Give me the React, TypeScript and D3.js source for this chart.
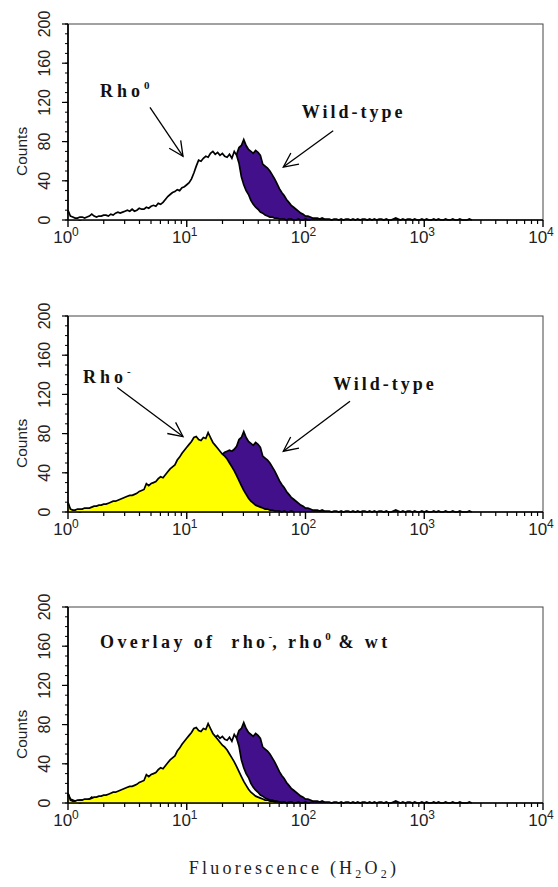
import React from "react";
import * as d3 from "d3";

// channel step in decades of fluorescence (log10 units)
const STEP = 0.02;

// Rho0 histogram counts (channel i at 10^(i*STEP))
const rho0Counts = [
  10, 4, 3, 2, 2, 3, 3, 2, 3, 4,
  6, 4, 3, 4, 4, 5, 5, 4, 6, 5,
  7, 8, 7, 8, 9, 10, 9, 11, 9, 10,
  12, 11, 11, 13, 12, 14, 15, 14, 17, 16,
  18, 21, 24, 26, 28, 29, 31, 30, 33, 34,
  36, 38, 42, 48, 55, 61, 60, 63, 65, 64,
  68, 70, 67, 69, 66, 68, 65, 64, 67, 63,
  70, 66, 58, 44, 36, 30, 26, 20, 16, 13,
  11, 8, 7, 5, 4, 3, 3, 2, 2, 1,
  1, 1, 0, 1, 1, 0, 0, 1, 0, 0,
  1, 0, 0,
];

// Rho- histogram counts
const rhoMinusCounts = [
  10, 3, 2, 2, 3, 3, 3, 4, 4, 4,
  5, 6, 6, 7, 7, 8, 8, 9, 10, 11,
  11, 12, 13, 14, 15, 16, 17, 17, 18, 19,
  21, 22, 23, 29, 27, 29, 30, 31, 34, 36,
  35, 38, 41, 44, 46, 48, 53, 56, 60, 63,
  66, 69, 72, 76, 77, 74, 73, 76, 75, 81,
  76, 71, 68, 65, 62, 59, 57, 54, 50, 46,
  42, 37, 32, 27, 22, 18, 14, 11, 9, 7,
  6, 5, 4, 3, 3, 2, 2, 1, 1, 1,
  0, 1, 0, 0, 1, 0,
];

// Wild-type histogram counts
const wildTypeCounts = [
  8, 2, 1, 1, 1, 0, 1, 1, 1, 1,
  1, 1, 1, 1, 1, 2, 1, 1, 2, 2,
  2, 2, 2, 2, 2, 3, 3, 3, 3, 3,
  3, 4, 4, 4, 4, 5, 5, 5, 6, 6,
  6, 7, 8, 9, 10, 11, 13, 14, 16, 18,
  20, 22, 25, 27, 30, 33, 36, 39, 42, 45,
  48, 51, 53, 55, 57, 59, 61, 62, 63, 62,
  64, 67, 74, 76, 82, 76, 72, 70, 68, 71,
  69, 66, 57, 55, 53, 50, 46, 42, 37, 32,
  28, 25, 21, 18, 15, 13, 11, 9, 7, 6,
  4, 4, 3, 2, 2, 2, 1, 2, 1, 1,
  1, 0, 1, 1, 0, 1, 0, 1, 1, 0,
  1, 0, 1, 0, 1, 1, 0, 1, 0, 1,
  0, 1, 1, 0, 1, 0, 0, 1, 2, 1,
  0, 1, 0, 1, 1, 0, 1, 0, 0, 1,
  0, 1, 0, 0, 1, 0, 1, 0, 0, 1,
  0, 0, 1, 0, 0, 1, 0, 0, 0, 1,
  0,
];

const yTickValues = [0, 40, 80, 120, 160, 200];
const yMinorValues = d3.range(0, 201, 10);
const xDecadeExponents = [0, 1, 2, 3, 4];

const COLORS = {
  wt: "#43108c",
  rhoMinus: "#ffff00",
  rho0: "#ffffff",
};

const LAYOUT = {
  left: 68,
  right: 543,
  tops: [24, 316, 607],
  height: 196,
};

type Series = { counts: number[]; fill: string };

type Annot =
  | { kind: "label"; x: number; c: number; text: string; sup: string; spacing: number }
  | { kind: "arrow"; x1: number; c1: number; x2: number; c2: number };

const panels: { layers: Series[]; annots: Annot[] }[] = [
  {
    layers: [
      { counts: wildTypeCounts, fill: COLORS.wt },
      { counts: rho0Counts, fill: COLORS.rho0 },
    ],
    annots: [
      { kind: "label", x: 1.86, c: 126, text: "Rho", sup: "0", spacing: 4 },
      { kind: "arrow", x1: 4.9, c1: 115, x2: 9.3, c2: 65 },
      { kind: "label", x: 93, c: 104, text: "Wild-type", sup: "", spacing: 3 },
      { kind: "arrow", x1: 171, c1: 91, x2: 65, c2: 54 },
    ],
  },
  {
    layers: [
      { counts: wildTypeCounts, fill: COLORS.wt },
      { counts: rhoMinusCounts, fill: COLORS.rhoMinus },
    ],
    annots: [
      { kind: "label", x: 1.34, c: 132, text: "Rho", sup: "-", spacing: 4 },
      { kind: "arrow", x1: 2.6, c1: 127, x2: 9.3, c2: 77 },
      { kind: "label", x: 171, c: 125, text: "Wild-type", sup: "", spacing: 3 },
      { kind: "arrow", x1: 237, c1: 113, x2: 65, c2: 62 },
    ],
  },
  {
    layers: [
      { counts: wildTypeCounts, fill: COLORS.wt },
      { counts: rho0Counts, fill: COLORS.rho0 },
      { counts: rhoMinusCounts, fill: COLORS.rhoMinus },
    ],
    annots: [],
  },
];

const SANS = "'Liberation Sans', Arial, Helvetica, sans-serif";
const SERIF = "'Liberation Serif', 'Times New Roman', serif";

function Panel({ index }: { index: number }) {
  const top = LAYOUT.tops[index];
  const bottom = top + LAYOUT.height;
  const x = d3.scaleLog().domain([1, 1e4]).range([LAYOUT.left, LAYOUT.right]);
  const y = d3.scaleLinear().domain([0, 200]).range([bottom, top]);
  const panel = panels[index];

  const toPts = (counts: number[]) =>
    counts.map((c, i) => ({ v: Math.pow(10, i * STEP), c }));

  const area = d3
    .area<{ v: number; c: number }>()
    .x((d) => x(d.v))
    .y0(y(0))
    .y1((d) => y(d.c));
  const line = d3
    .line<{ v: number; c: number }>()
    .x((d) => x(d.v))
    .y((d) => y(d.c));

  const minorX: number[] = [];
  for (let k = 0; k < 4; k++) for (let m = 2; m <= 9; m++) minorX.push(m * Math.pow(10, k));

  return (
    <g>
      <rect
        x={LAYOUT.left}
        y={top}
        width={LAYOUT.right - LAYOUT.left}
        height={LAYOUT.height}
        fill="#fff"
        stroke="#444"
        strokeWidth={1}
      />
      {panel.layers.map((s, i) => {
        const pts = toPts(s.counts);
        return (
          <g key={i}>
            <path d={area(pts) || ""} fill={s.fill} />
            <path d={line(pts) || ""} fill="none" stroke="#000" strokeWidth={1.7} strokeLinejoin="miter" />
          </g>
        );
      })}
      <line x1={LAYOUT.left} x2={LAYOUT.right} y1={bottom} y2={bottom} stroke="#000" strokeWidth={1.7} />
      <line x1={LAYOUT.left} x2={LAYOUT.left} y1={top} y2={bottom} stroke="#000" strokeWidth={1.7} />
      {yMinorValues.map((v) => (
        <line key={"ym" + v} x1={LAYOUT.left - 3} x2={LAYOUT.left} y1={y(v)} y2={y(v)} stroke="#000" strokeWidth={1} />
      ))}
      {yTickValues.map((v) => (
        <g key={"yt" + v}>
          <line x1={LAYOUT.left - 6} x2={LAYOUT.left} y1={y(v)} y2={y(v)} stroke="#000" strokeWidth={1.2} />
          <text
            transform={`translate(${LAYOUT.left - 24},${y(v)}) rotate(-90)`}
            textAnchor="middle"
            dominantBaseline="central"
            fontFamily={SANS}
            fontSize={16}
            fill="#222"
          >
            {v}
          </text>
        </g>
      ))}
      <text
        transform={`translate(${LAYOUT.left - 47},${y(70)}) rotate(-90)`}
        textAnchor="middle"
        dominantBaseline="central"
        fontFamily={SANS}
        fontSize={15.5}
        fill="#222"
      >
        Counts
      </text>
      {minorX.map((v) => (
        <line key={"xm" + v} x1={x(v)} x2={x(v)} y1={bottom} y2={bottom + 4} stroke="#000" strokeWidth={1.2} />
      ))}
      {xDecadeExponents.map((k) => (
        <g key={"xt" + k}>
          <line x1={x(Math.pow(10, k))} x2={x(Math.pow(10, k))} y1={bottom} y2={bottom + 7} stroke="#000" strokeWidth={1.4} />
          <text x={x(Math.pow(10, k)) - 2} y={bottom + 23} textAnchor="middle" fontFamily={SANS} fontSize={17} fill="#222">
            10
            <tspan dy={-7} fontSize={12}>
              {k}
            </tspan>
          </text>
        </g>
      ))}
      {panel.annots.map((a, i) => {
        if (a.kind === "label") {
          return (
            <text key={i} x={x(a.x)} y={y(a.c)} fontFamily={SERIF} fontWeight="bold" fontSize={18} letterSpacing={a.spacing} fill="#111">
              {a.text}
              {a.sup ? (
                <tspan dy={-8} fontSize={11} letterSpacing={0}>
                  {a.sup}
                </tspan>
              ) : null}
            </text>
          );
        }
        const X1 = x(a.x1), Y1 = y(a.c1), X2 = x(a.x2), Y2 = y(a.c2);
        const ang = Math.atan2(Y2 - Y1, X2 - X1);
        const L = 16, spread = Math.PI / 7;
        const h1 = [X2 - L * Math.cos(ang - spread), Y2 - L * Math.sin(ang - spread)];
        const h2 = [X2 - L * Math.cos(ang + spread), Y2 - L * Math.sin(ang + spread)];
        return (
          <g key={i} stroke="#000" strokeWidth={1.3} fill="none">
            <line x1={X1} y1={Y1} x2={X2} y2={Y2} />
            <polyline points={`${h1[0]},${h1[1]} ${X2},${Y2} ${h2[0]},${h2[1]}`} />
          </g>
        );
      })}
      {index === 2 ? (
        <text x={x(1.86)} y={y(158)} fontFamily={SERIF} fontWeight="bold" fontSize={18} letterSpacing={3.4} fill="#111" style={{ whiteSpace: "pre" }}>
          {"Overlay of  rho"}
          <tspan dy={-8} fontSize={11} letterSpacing={0}>-</tspan>
          <tspan dy={8}>{", rho"}</tspan>
          <tspan dy={-8} fontSize={11} letterSpacing={0}>0</tspan>
          <tspan dy={8}>{" & wt"}</tspan>
        </text>
      ) : null}
    </g>
  );
}

export default function App() {
  return (
    <svg
      width={558}
      height={887}
      style={{ position: "absolute", left: 0, top: 0, background: "#fff" }}
    >
      <rect width={558} height={887} fill="#fff" />
      {panels.map((_, i) => (
        <Panel key={i} index={i} />
      ))}
      <text x={294} y={874} textAnchor="middle" fontFamily={SERIF} fontSize={18} letterSpacing={3.2} fill="#222">
        Fluorescence (H
        <tspan dy={4} fontSize={12}>2</tspan>
        <tspan dy={-4}>O</tspan>
        <tspan dy={4} fontSize={12}>2</tspan>
        <tspan dy={-4}>)</tspan>
      </text>
    </svg>
  );
}
